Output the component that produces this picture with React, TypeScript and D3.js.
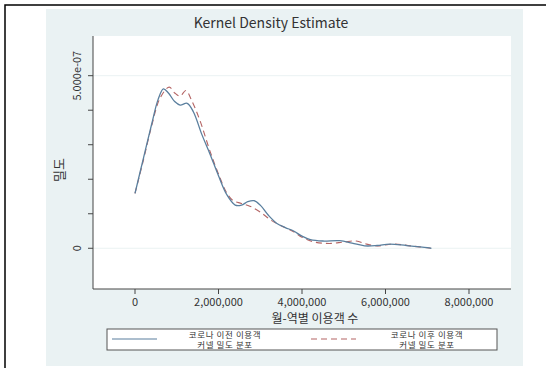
import React, { useEffect, useRef } from 'react';
import * as d3 from 'd3';

// 월-역별 이용객 수 (x) / 밀도 (y, 1e-7 단위)
const xBefore = [0, 0.2, 0.4, 0.55, 0.68, 0.8, 0.95, 1.08, 1.25, 1.4, 1.6, 1.8, 2.0, 2.2, 2.4, 2.55, 2.7, 2.85, 3.0, 3.2, 3.4, 3.6, 3.8, 4.0, 4.2, 4.5, 4.9, 5.2, 5.5, 5.8, 6.1, 6.5, 7.0, 7.1];
const densBefore = [1.59, 2.6, 3.6, 4.3, 4.62, 4.5, 4.25, 4.15, 4.2, 3.95, 3.3, 2.72, 2.1, 1.55, 1.25, 1.25, 1.35, 1.38, 1.25, 0.95, 0.72, 0.6, 0.5, 0.35, 0.25, 0.21, 0.22, 0.15, 0.07, 0.08, 0.12, 0.08, 0.02, 0.0];
const xAfter = [0, 0.2, 0.4, 0.6, 0.82, 0.95, 1.08, 1.22, 1.35, 1.55, 1.8, 2.0, 2.2, 2.35, 2.55, 2.75, 3.0, 3.25, 3.5, 3.8, 4.0, 4.3, 4.65, 5.0, 5.3, 5.55, 5.8, 6.2, 6.6, 7.1];
const densAfter = [1.59, 2.55, 3.55, 4.35, 4.67, 4.5, 4.41, 4.57, 4.3, 3.72, 2.8, 2.15, 1.6, 1.38, 1.3, 1.22, 1.05, 0.82, 0.65, 0.48, 0.32, 0.18, 0.14, 0.18, 0.21, 0.12, 0.07, 0.12, 0.07, 0.0];

const xTicks = [0, 2000000, 4000000, 6000000, 8000000];
const yMajorTicks = [0, 5e-7];
const yMinorTicks = [1e-7, 2e-7, 3e-7, 4e-7];

const seriesNames = [['코로나 이전 이용객', '커넬 밀도 분포'], ['코로나 이후 이용객', '커넬 밀도 분포']];

const App: React.FC = () => {
    const ref = useRef<SVGSVGElement>(null);

    useEffect(() => {
        const svg = d3.select(ref.current);
        svg.selectAll("*").remove();

        const font = "'Noto Sans CJK KR', 'DejaVu Sans', sans-serif";
        const left = 93, right = 511, top = 36, bottom = 289;

        // outer frame
        svg.append("rect").attr("x", 5).attr("y", 5).attr("width", 600).attr("height", 400)
            .attr("fill", "white").attr("stroke", "black").attr("stroke-width", 1.5);
        svg.append("rect").attr("x", 46).attr("y", 9).attr("width", 477).attr("height", 357)
            .attr("fill", "#eaf2f3");
        svg.append("rect").attr("x", left).attr("y", top).attr("width", right - left).attr("height", bottom - top)
            .attr("fill", "white");

        const x = d3.scaleLinear().domain([-1006000, 9006000]).range([left, right]);
        const y = d3.scaleLinear().domain([-1.18e-7, 6.15e-7]).range([bottom, top]);

        // grid
        svg.selectAll(".grid").data(yMajorTicks).enter().append("line")
            .attr("x1", left).attr("x2", right)
            .attr("y1", d => y(d)).attr("y2", d => y(d))
            .attr("stroke", "#eaf2f3").attr("stroke-width", 1);

        // axes
        const axisColor = "#444";
        svg.append("line").attr("x1", left).attr("x2", left).attr("y1", top).attr("y2", bottom)
            .attr("stroke", axisColor);
        svg.append("line").attr("x1", left).attr("x2", right).attr("y1", bottom).attr("y2", bottom)
            .attr("stroke", axisColor);

        svg.selectAll(".yt").data([...yMajorTicks, ...yMinorTicks]).enter().append("line")
            .attr("x1", left - 5).attr("x2", left)
            .attr("y1", d => y(d)).attr("y2", d => y(d))
            .attr("stroke", axisColor);
        svg.selectAll(".ytl").data(yMajorTicks).enter().append("text")
            .attr("transform", d => `translate(81, ${y(d)}) rotate(-90)`)
            .attr("text-anchor", "middle")
            .attr("font-family", font).attr("font-size", 11).attr("fill", "#333")
            .text(d => d === 0 ? "0" : d.toExponential(3).replace("e-7", "e-07"));

        svg.selectAll(".xt").data(xTicks).enter().append("line")
            .attr("x1", d => x(d)).attr("x2", d => x(d))
            .attr("y1", bottom).attr("y2", bottom + 5)
            .attr("stroke", axisColor);
        svg.selectAll(".xtl").data(xTicks).enter().append("text")
            .attr("x", d => x(d)).attr("y", 306)
            .attr("text-anchor", "middle")
            .attr("font-family", font).attr("font-size", 11).attr("fill", "#333")
            .text(d => d3.format(",")(d));

        // titles
        svg.append("text").attr("x", 271).attr("y", 28).attr("text-anchor", "middle")
            .attr("font-family", font).attr("font-size", 14).attr("fill", "#333")
            .text("Kernel Density Estimate");
        svg.append("text").attr("x", 315).attr("y", 323).attr("text-anchor", "middle")
            .attr("font-family", font).attr("font-size", 12).attr("fill", "#333")
            .text("월-역별 이용객 수");
        svg.append("text").attr("transform", "translate(64, 170) rotate(-90)").attr("text-anchor", "middle")
            .attr("font-family", font).attr("font-size", 13).attr("fill", "#333")
            .text("밀도");

        // lines
        const line = d3.line<[number, number]>()
            .x(d => x(d[0] * 1e6)).y(d => y(d[1] * 1e-7))
            .curve(d3.curveCatmullRom.alpha(0.5));
        const before = xBefore.map((v, i) => [v, densBefore[i]] as [number, number]);
        const after = xAfter.map((v, i) => [v, densAfter[i]] as [number, number]);

        svg.append("path").attr("d", line(after)).attr("fill", "none")
            .attr("stroke", "#b46464").attr("stroke-width", 1.1).attr("stroke-dasharray", "6,4");
        svg.append("path").attr("d", line(before)).attr("fill", "none")
            .attr("stroke", "#5a7f9e").attr("stroke-width", 1.3);

        // legend
        svg.append("rect").attr("x", 107).attr("y", 329).attr("width", 390).attr("height", 21)
            .attr("fill", "white").attr("stroke", "#555").attr("stroke-width", 1);
        svg.append("line").attr("x1", 112).attr("x2", 157).attr("y1", 339).attr("y2", 339)
            .attr("stroke", "#5a7f9e").attr("stroke-width", 1.2);
        svg.append("line").attr("x1", 311).attr("x2", 356).attr("y1", 339).attr("y2", 339)
            .attr("stroke", "#b46464").attr("stroke-width", 1.1).attr("stroke-dasharray", "6,4");
        [225, 427].forEach((cx, i) => {
            seriesNames[i].forEach((t, j) => {
                svg.append("text").attr("x", cx).attr("y", 337.5 + j * 10.5).attr("text-anchor", "middle")
                    .attr("font-family", font).attr("font-size", 8.5).attr("fill", "#333")
                    .attr("letter-spacing", 0.6)
                    .text(t);
            });
        });
    }, []);

    return <svg ref={ref} width="546" height="368" style={{ position: 'absolute', left: 0, top: 0 }}></svg>;
};

export default App;
